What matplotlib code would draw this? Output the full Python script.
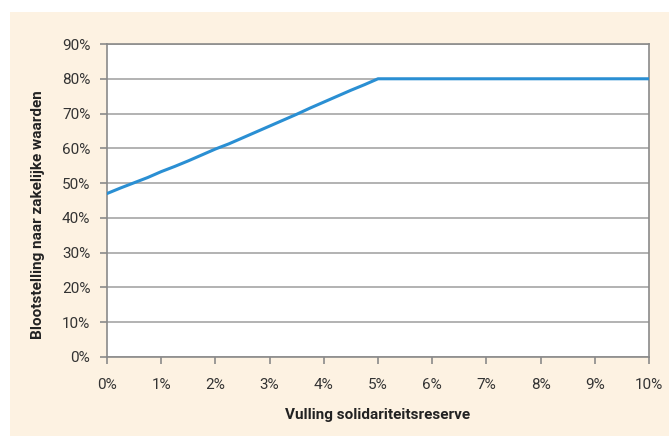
import matplotlib
matplotlib.use('Agg')
import matplotlib.pyplot as plt
from matplotlib.patches import Rectangle
from matplotlib.ticker import FuncFormatter

plt.rcParams['font.family'] = ['Roboto', 'DejaVu Sans']

# vulling solidariteitsreserve (%) en blootstelling zakelijke waarden (%)
reserve = [0, 0.25, 0.5, 0.75, 1.0, 1.25, 1.5, 1.75, 2.0, 2.25, 2.5, 2.75,
           3.0, 3.25, 3.5, 3.75, 4.0, 4.25, 4.5, 4.75, 5.0, 10.0]
blootstelling = [47.0, 48.6, 50.1, 51.6, 53.3, 54.8, 56.4, 58.1, 59.8, 61.3, 63.0, 64.7,
                 66.4, 68.1, 69.8, 71.6, 73.3, 75.0, 76.7, 78.3, 80.0, 80.0]

x_ticks = list(range(0, 11))
y_ticks = list(range(0, 91, 10))

W, H = 669, 437
fig = plt.figure(figsize=(W / 100, H / 100), dpi=100)
fig.patches.append(Rectangle((10 / W, 1 / H), 659 / W, 424 / H,
                             transform=fig.transFigure, facecolor='#fdf2e2',
                             edgecolor='none', zorder=-10))

ax = fig.add_axes([107 / W, (H - 357) / H, 542 / W, 313 / H])
ax.set_facecolor('white')
ax.plot(reserve, blootstelling, color='#2a8fd3', lw=2.2, zorder=3)

ax.set_xlim(0, 10)
ax.set_ylim(0, 90)
ax.set_xticks(x_ticks)
ax.set_yticks(y_ticks)
pct = FuncFormatter(lambda v, p: f'{int(v)}%')
ax.xaxis.set_major_formatter(pct)
ax.yaxis.set_major_formatter(pct)
ax.yaxis.grid(True, color='#a6a6a6', lw=1.2)
ax.set_axisbelow(True)
for s in ax.spines.values():
    s.set_color('#8a8a8a')
    s.set_linewidth(1.2)
ax.tick_params(axis='both', colors='#8a8a8a', labelcolor='#333333',
               labelsize=11, length=5, width=1.2)
ax.tick_params(axis='x', pad=10)
ax.tick_params(axis='y', pad=7)

ax.set_xlabel('Vulling solidariteitsreserve', fontsize=11, fontweight='bold',
              color='#222222', labelpad=12)
ax.set_ylabel('Blootstelling naar zakelijke waarden', fontsize=11,
              fontweight='bold', color='#222222')
ax.yaxis.set_label_coords(-0.114, 0.455)

fig.savefig('out.png', dpi=100)
